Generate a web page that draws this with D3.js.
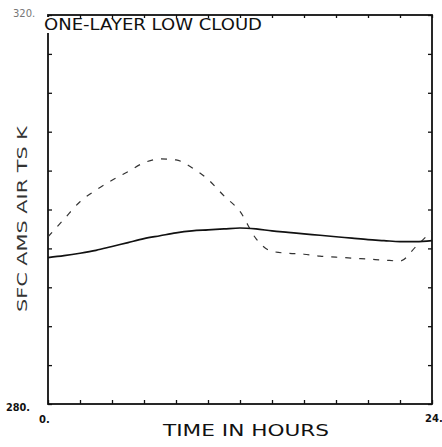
<!DOCTYPE html>
<html>
<head>
<meta charset="utf-8">
<script src="https://cdn.jsdelivr.net/npm/d3@7/dist/d3.min.js"></script>
<style>
body { margin: 0; background: #fff; }
svg { display: block; }
</style>
</head>
<body>
<div class="chart"></div>
<script>
// hours 0..24
var hours = d3.range(0, 25);
// solid series (K)
var solidTs = [295.05, 295.25, 295.5, 295.8, 296.2, 296.6, 297.0, 297.3, 297.6, 297.8, 297.9, 298.0, 298.1,
               298.0, 297.8, 297.65, 297.5, 297.35, 297.2, 297.05, 296.9, 296.8, 296.7, 296.7, 296.8];
// dashed series (K)
var dashTs = [297.2, 299.0, 300.8, 302.0, 303.0, 303.9, 304.8, 305.2, 305.1, 304.3, 303.1, 301.4, 299.8,
              297.0, 295.7, 295.5, 295.4, 295.2, 295.1, 295.0, 294.9, 294.8, 294.7, 296.2, 297.8];
var yMin = 280, yMax = 320;
var xTicks = d3.range(0, 25, 2);
var yTicks = d3.range(280, 321, 4);
var title = 'ONE-LAYER LOW CLOUD';
var xTitle = 'TIME   IN   HOURS';
var yTitle = 'SFC AMS AIR TS  K';

var width = 442, height = 447;
var plotLeft = 48, plotRight = 432, plotTop = 15, plotBottom = 404;
var font = 'DejaVu Sans, sans-serif';

var svg = d3.select('.chart').append('svg')
	.attr('width', width)
	.attr('height', height);

var x = d3.scaleLinear().domain([0, 24]).range([plotLeft, plotRight]);
var y = d3.scaleLinear().domain([yMin, yMax]).range([plotBottom, plotTop]);

function noLabels(g){
	g.selectAll('text').remove();
	g.select('.domain').remove();
	g.selectAll('line').attr('stroke', '#111').attr('stroke-width', 1.3);
}
svg.append('g').attr('transform', 'translate(0,' + plotBottom + ')')
	.call(d3.axisBottom(x).tickValues(xTicks).tickSize(-4)).call(noLabels);
svg.append('g').attr('transform', 'translate(0,' + plotTop + ')')
	.call(d3.axisTop(x).tickValues(xTicks).tickSize(-3)).call(noLabels);
svg.append('g').attr('transform', 'translate(' + plotLeft + ',0)')
	.call(d3.axisLeft(y).tickValues(yTicks).tickSize(-4)).call(noLabels);
svg.append('g').attr('transform', 'translate(' + plotRight + ',0)')
	.call(d3.axisRight(y).tickValues(yTicks).tickSize(-4)).call(noLabels);

// frame
svg.append('rect')
	.attr('x', plotLeft).attr('y', plotTop)
	.attr('width', plotRight - plotLeft).attr('height', plotBottom - plotTop)
	.attr('fill', 'none').attr('stroke', '#111').attr('stroke-width', 1.8);

var line = d3.line().x(function(d, i){ return x(hours[i]); }).y(function(d){ return y(d); })
	.curve(d3.curveMonotoneX);

svg.append('path').datum(dashTs)
	.attr('d', line)
	.attr('fill', 'none').attr('stroke', '#333').attr('stroke-width', 1.2)
	.attr('stroke-dasharray', '6,8');
svg.append('path').datum(solidTs)
	.attr('d', line)
	.attr('fill', 'none').attr('stroke', '#111').attr('stroke-width', 1.7);

// texts
svg.append('rect').attr('x', 43).attr('y', 17).attr('width', 8).attr('height', 16).attr('fill', '#fff');
svg.append('text').attr('x', 44).attr('y', 30)
	.attr('font-family', font).attr('font-size', 15)
	.attr('textLength', 218).attr('lengthAdjust', 'spacingAndGlyphs')
	.attr('fill', '#111').text(title);
svg.append('text').attr('x', 13).attr('y', 17)
	.attr('font-family', font).attr('font-size', 10)
	.attr('fill', '#777').text(yMax + '.');
svg.append('text').attr('x', 6).attr('y', 411)
	.attr('font-family', font).attr('font-size', 10).attr('font-weight', 'bold')
	.attr('textLength', 24).attr('lengthAdjust', 'spacingAndGlyphs')
	.attr('fill', '#111').text(yMin + '.');
svg.append('text').attr('x', 39).attr('y', 423)
	.attr('font-family', font).attr('font-size', 10).attr('font-weight', 'bold')
	.attr('fill', '#111').text(xTicks[0] + '.');
svg.append('text').attr('x', 425).attr('y', 422)
	.attr('font-family', font).attr('font-size', 10).attr('font-weight', 'bold')
	.attr('fill', '#111').text(xTicks[xTicks.length - 1] + '.');
svg.append('text').attr('x', 163).attr('y', 436)
	.attr('font-family', font).attr('font-size', 16)
	.attr('textLength', 166).attr('lengthAdjust', 'spacingAndGlyphs')
	.attr('fill', '#111').text(xTitle);
svg.append('text')
	.attr('transform', 'translate(27,312) rotate(-90)')
	.attr('font-family', font).attr('font-size', 14)
	.attr('textLength', 186).attr('lengthAdjust', 'spacingAndGlyphs')
	.attr('fill', '#333').text(yTitle);
</script>
</body>
</html>
